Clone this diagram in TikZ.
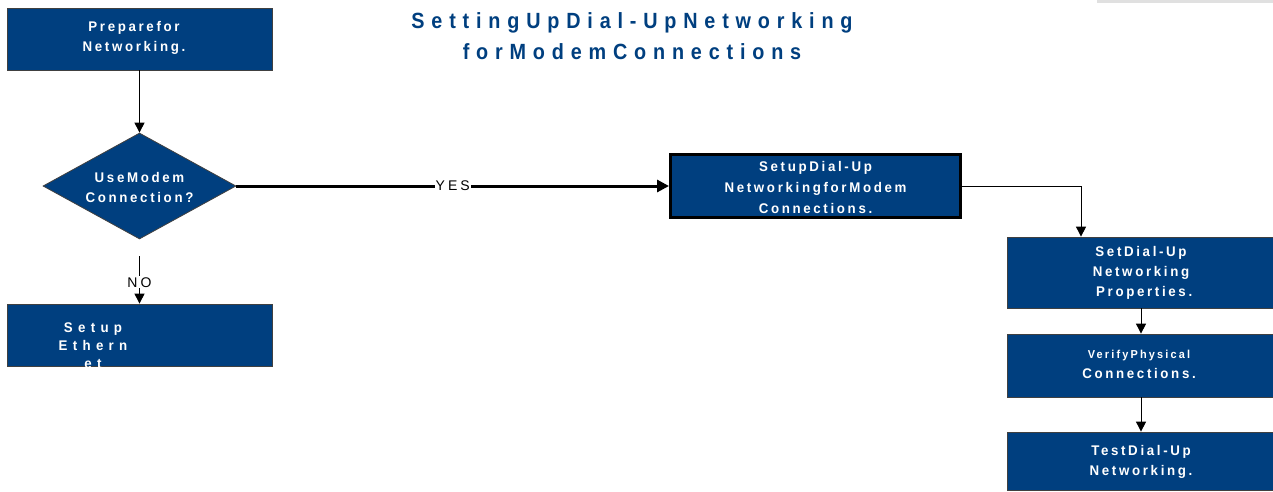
\documentclass[tikz,border=0pt]{standalone}
\usepackage{fontspec}
\setmainfont{Liberation Sans}
\newfontfamily\boxfont{Liberation Sans}[LetterSpace=19,FakeStretch=0.95]
\newfontfamily\widefont{Liberation Sans}[LetterSpace=38,FakeStretch=0.95]
\newfontfamily\titlefont{Liberation Sans}[LetterSpace=31,FakeStretch=0.9]
\newfontfamily\lblfont{Liberation Sans}[LetterSpace=22]
\usetikzlibrary{shapes.geometric,arrows.meta}
\definecolor{boxblue}{RGB}{0,63,127}
\tikzset{
  flowbox/.style={rectangle, fill=boxblue, draw=black!75, line width=0.8pt, inner sep=0pt},
  boxtext/.style={text=white, align=center, font=\boxfont\bfseries\fontsize{14}{20}\selectfont, inner sep=0pt},
  conn/.style={line width=1pt, -{Triangle[width=10pt,length=10pt]}},
  lbl/.style={fill=white, inner sep=1pt, font=\lblfont\fontsize{14}{15}\selectfont},
  ttl/.style={text=boxblue, align=center, font=\titlefont\bfseries\fontsize{22}{31}\selectfont}
}
\begin{document}
\begin{tikzpicture}[x=1pt,y=-1pt]
\useasboundingbox (0,0) rectangle (1273,491);
\fill[black!12] (1097,0) rectangle (1273,3);
% title
\node[ttl] (title) at (632,36) {SettingUpDial-UpNetworking\\forModemConnections};
% boxes
\node[flowbox, minimum width=265pt, minimum height=62pt] (prep) at (139.5,39) {};
\node[boxtext] (preptxt) at (134,38) {Preparefor\\Networking.};
\node[diamond, fill=boxblue, draw=black!75, line width=0.8pt, inner sep=0pt, minimum width=193pt, minimum height=106pt] (dec) at (139.5,186) {};
\node[boxtext] (dectxt) at (139.5,187) {UseModem\\Connection?};
\node[flowbox, minimum width=265pt, minimum height=62pt] (eth) at (139.5,335) {};
\begin{scope}
\clip (eth.south west) rectangle (eth.north east);
\node[boxtext, font=\widefont\bfseries\fontsize{14}{18}\selectfont] (ethtxt) at (93,346) {Setup\\Ethern\\et};
\end{scope}
\node[flowbox, draw=black, line width=3pt, minimum width=290pt, minimum height=63pt] (dial) at (815.5,186) {};
\node[boxtext, font=\boxfont\bfseries\fontsize{14}{21}\selectfont] (dialtxt) at (815.5,187) {SetupDial-Up\\NetworkingforModem\\Connections.};
\node[flowbox, minimum width=268pt, minimum height=71pt] (props) at (1141,272.5) {};
\node[boxtext] (propstxt) at (1141,273) {SetDial-Up\\Networking\\\ Properties.};
\node[flowbox, minimum width=268pt, minimum height=63pt] (verify) at (1141,365.5) {};
\node[boxtext] (verifytxt) at (1139,364) {{\fontsize{11.5}{20}\selectfont VerifyPhysical}\\Connections.};
\node[flowbox, minimum width=268pt, minimum height=58pt] (test) at (1141,461) {};
\node[boxtext] (testtxt) at (1141,462) {TestDial-Up\\Networking.};
% connectors
\draw[conn] (prep.south) -- (dec.north);
\draw[line width=3pt, -{Triangle[width=12pt,length=12pt]}] (dec.east) -- node[lbl] (yes) {YES} (dial.west);
\coordinate (nostart) at (139.5,256);
\draw[conn] (nostart) -- node[lbl, pos=0.55] (no) {NO} (eth.north);
\draw[conn] (dial.east) -| ([xshift=-60pt]props.north);
\draw[conn] (props.south) -- (verify.north);
\draw[conn] (verify.south) -- (test.north);
\end{tikzpicture}
\end{document}
